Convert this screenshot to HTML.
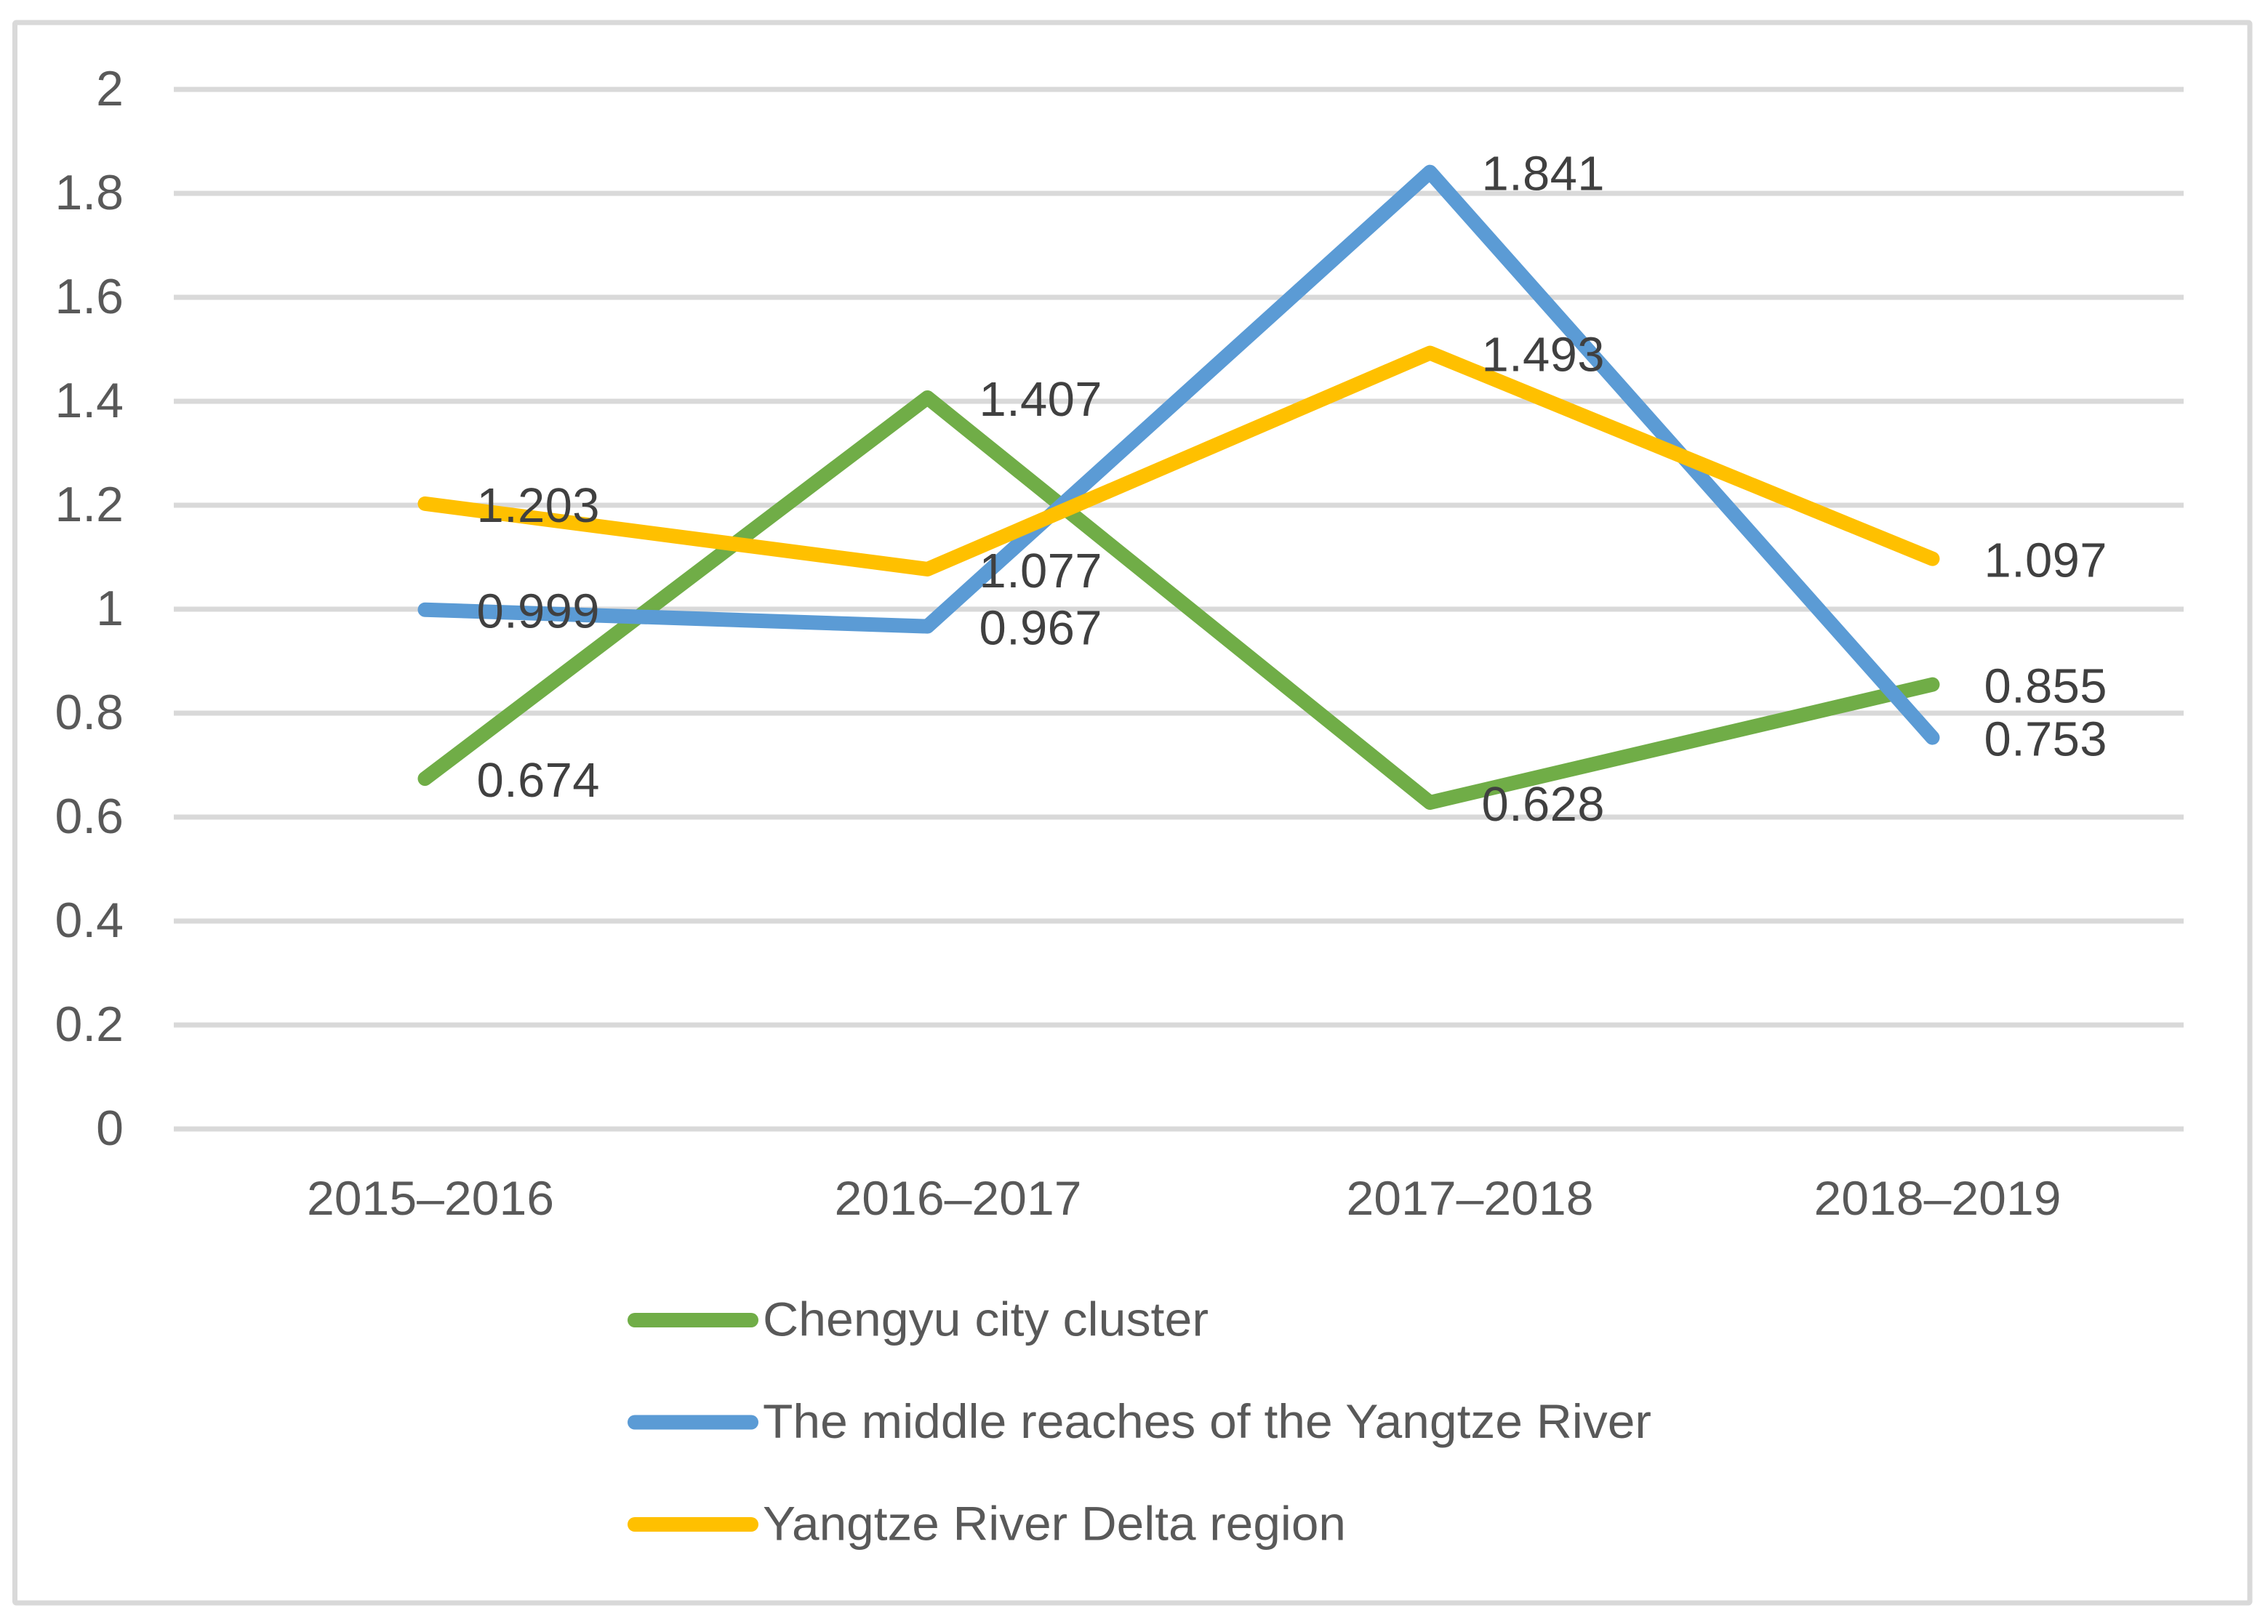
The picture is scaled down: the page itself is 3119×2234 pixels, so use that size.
<!DOCTYPE html>
<html lang="en">
<head>
<meta charset="utf-8">
<title>Line chart of three Chinese city clusters, 2015–2019</title>
<style>
html,body{margin:0;padding:0;background:#fff;}
svg{display:block;}
text{font-family:"Liberation Sans",Arial,sans-serif;}
.axis-text{fill:#595959;font-size:66px;}
.y-text{fill:#595959;font-size:68px;}
.value-text{fill:#404040;font-size:67px;}
.legend-text{fill:#595959;font-size:66px;}
</style>
</head>
<body>
<svg id="chart" xmlns="http://www.w3.org/2000/svg" width="3119" height="2234" viewBox="0 0 3119 2234">
  <rect x="0" y="0" width="3119" height="2234" fill="#ffffff"/>
  <rect x="20.5" y="31" width="3073.5" height="2174" rx="2" fill="#ffffff" stroke="#D9D9D9" stroke-width="7"/>
  <g id="grid"></g>
  <g id="yaxis"></g>
  <g id="xaxis"></g>
  <g id="series"></g>
  <g id="values"></g>
  <g id="legend"></g>
</svg>
<script>
const categories = ['2015–2016', '2016–2017', '2017–2018', '2018–2019'];
const yTickLabels = ['0', '0.2', '0.4', '0.6', '0.8', '1', '1.2', '1.4', '1.6', '1.8', '2'];
const seriesNames = ['Chengyu city cluster', 'The middle reaches of the Yangtze River', 'Yangtze River Delta region'];
const chengyuValues = [0.674, 1.407, 0.628, 0.855];
const middleReachesValues = [0.999, 0.967, 1.841, 0.753];
const deltaValues = [1.203, 1.077, 1.493, 1.097];

const NS = 'http://www.w3.org/2000/svg';
const plotLeft = 239, plotRight = 3003, plotTop = 123, plotBottom = 1553, yMax = 2;
const colors = ['#70AD47', '#5B9BD5', '#FFC000'];
const slugs = ['chengyu', 'middle-reaches', 'yangtze-delta'];
const allValues = [chengyuValues, middleReachesValues, deltaValues];
const xLabelNudge = [7.5, 42, 55, 7];
const legendTextWidths = [613, 1222, 802];

function xScale(i) { return plotLeft + (plotRight - plotLeft) * (i + 0.5) / categories.length; }
function yScale(v) { return plotBottom - (plotBottom - plotTop) * v / yMax; }
function make(tag, attrs, parent) {
  const el = document.createElementNS(NS, tag);
  for (const k in attrs) el.setAttribute(k, attrs[k]);
  parent.appendChild(el);
  return el;
}

const gridG = document.getElementById('grid');
const yG = document.getElementById('yaxis');
yTickLabels.forEach(function (label) {
  const y = yScale(Number(label));
  const line = make('line', {x1: plotLeft, x2: plotRight, y1: y, y2: y, stroke: '#D9D9D9', 'stroke-width': 7}, gridG);
  
  
  const t = make('text', {x: 170, y: y + 22, 'text-anchor': 'end', class: 'y-text'}, yG);
  
  
  t.textContent = label;
});

const xG = document.getElementById('xaxis');
categories.forEach(function (label, i) {
  const t = make('text', {x: xScale(i) + xLabelNudge[i], y: 1671, 'text-anchor': 'middle', class: 'axis-text', textLength: 340, lengthAdjust: 'spacingAndGlyphs'}, xG);
  
  
  t.textContent = label;
});

const seriesG = document.getElementById('series');
const valuesG = document.getElementById('values');
allValues.forEach(function (vals, s) {
  const pts = vals.map(function (v, i) { return xScale(i) + ',' + yScale(v); }).join(' ');
  const line = make('polyline', {points: pts, fill: 'none', stroke: colors[s], 'stroke-width': 20, 'stroke-linecap': 'round', 'stroke-linejoin': 'round'}, seriesG);
  
  
  vals.forEach(function (v, i) {
    const t = make('text', {x: xScale(i) + 71, y: yScale(v) + 25, class: 'value-text', textLength: 169, lengthAdjust: 'spacing'}, valuesG);
    
    
    t.textContent = v.toFixed(3);
  });
});

const legendG = document.getElementById('legend');
seriesNames.forEach(function (name, s) {
  const y = 1816 + s * 140.5;
  const key = make('line', {x1: 873, x2: 1033, y1: y, y2: y, stroke: colors[s], 'stroke-width': 20, 'stroke-linecap': 'round'}, legendG);
  
  
  const t = make('text', {x: 1049, y: y + 21.5, class: 'legend-text', textLength: legendTextWidths[s], lengthAdjust: 'spacingAndGlyphs'}, legendG);
  
  
  t.textContent = name;
});
</script>
</body>
</html>
